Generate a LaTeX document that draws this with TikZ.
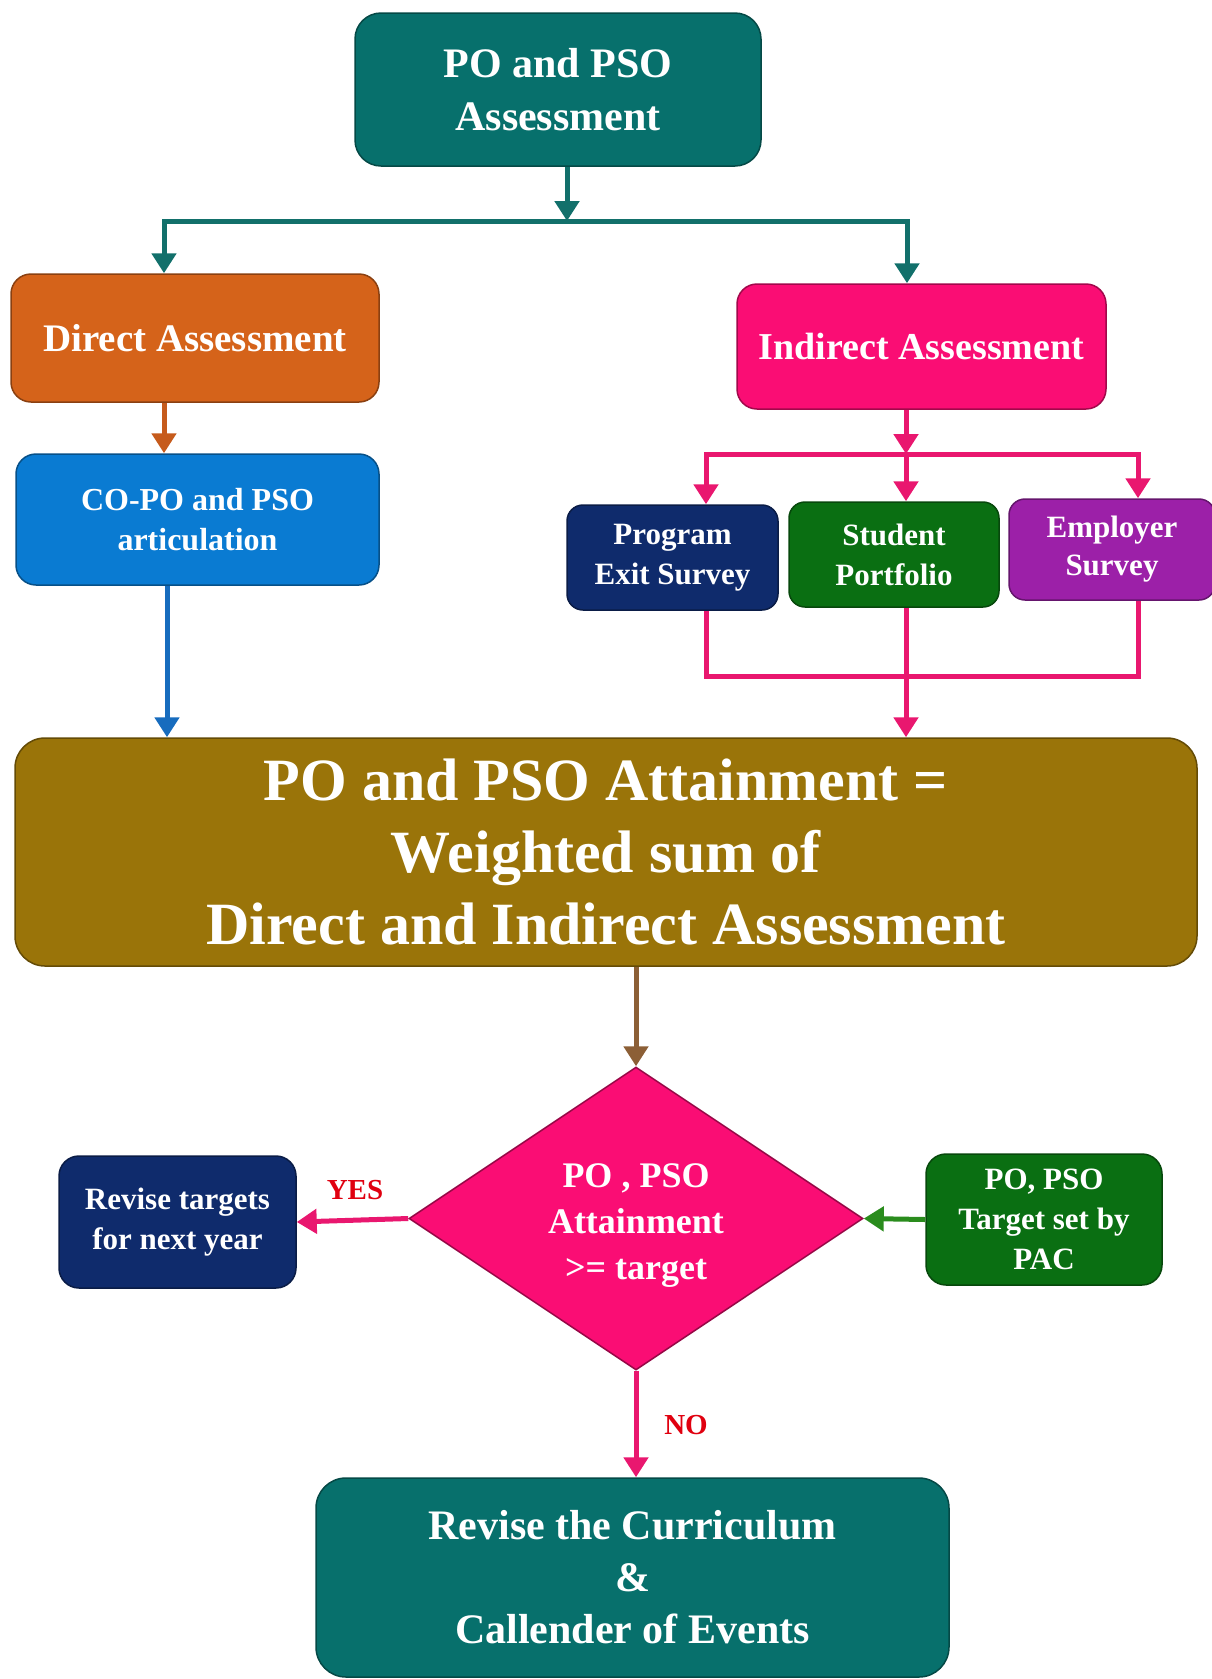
\documentclass[tikz,border=0pt]{standalone}
\usepackage{fontspec}
\setmainfont{Liberation Serif}
\usetikzlibrary{arrows.meta,shapes.geometric}

% box fills
\definecolor{cteal}{HTML}{07706C}
\definecolor{corange}{HTML}{D5631A}
\definecolor{cblue}{HTML}{0A7BD2}
\definecolor{cpink}{HTML}{FA0D74}
\definecolor{cnavy}{HTML}{0F2B6C}
\definecolor{cgreen}{HTML}{0A6F12}
\definecolor{cpurple}{HTML}{9C20A8}
\definecolor{colive}{HTML}{9A7409}
% connector colours
\definecolor{lteal}{HTML}{12706B}
\definecolor{lorange}{HTML}{C65B1C}
\definecolor{lblue}{HTML}{176CBE}
\definecolor{lpink}{HTML}{E9176F}
\definecolor{lbrown}{HTML}{8C5F36}
\definecolor{lgreen}{HTML}{2A8C1D}
\definecolor{lred}{HTML}{E0000F}

\begin{document}
\begin{tikzpicture}[x=1pt,y=-1pt,
  box/.style={rectangle, rounded corners=20pt, draw=#1!65!black, line width=1.5pt,
    fill=#1, text=white, align=center, inner sep=0pt},
  conn/.style={line width=5pt, draw=#1},
  >={Triangle[length=20pt,width=24pt]},
  flag/.style={text=lred, font=\fontsize{29}{32}\selectfont\bfseries, inner sep=0pt}]
\useasboundingbox (0,0) rectangle (1211,1679);

% ---- boxes ----
\node[box=cteal, minimum width=406pt, minimum height=153pt, rounded corners=26pt,
      font=\fontsize{42}{53}\selectfont\bfseries] (top) at (558,89.5) {PO and PSO\\Assessment};
\node[box=corange, minimum width=368pt, minimum height=128pt,
      font=\fontsize{39}{48}\selectfont\bfseries] (direct) at (195,338) {Direct Assessment};
\node[box=cpink, minimum width=369pt, minimum height=125pt,
      font=\fontsize{38}{48}\selectfont\bfseries] (indirect) at (921.5,346.5) {Indirect Assessment};
\node[box=cblue, minimum width=363pt, minimum height=131pt,
      font=\fontsize{32}{40}\selectfont\bfseries] (copo) at (197.5,519.5) {CO-PO and PSO\\articulation};
\node[box=cnavy, minimum width=211pt, minimum height=105pt, rounded corners=16pt,
      font=\fontsize{31}{40}\selectfont\bfseries] (prog) at (672.5,557.5) {Program\\Exit Survey};
\node[box=cgreen, minimum width=210pt, minimum height=105pt, rounded corners=16pt,
      font=\fontsize{31}{40}\selectfont\bfseries] (stud) at (894,554.5) {Student\\Portfolio};
\node[box=cpurple, minimum width=206pt, minimum height=101pt, rounded corners=16pt,
      font=\fontsize{31}{38}\selectfont\bfseries] (emp) at (1112,549.5) {Employer\\Survey};
\node[box=colive, minimum width=1182pt, minimum height=228pt, rounded corners=30pt,
      font=\fontsize{60}{72}\selectfont\bfseries] (big) at (606,852)
      {PO and PSO Attainment =\\Weighted sum of\\Direct and Indirect Assessment};
\node[diamond, minimum width=454pt, minimum height=303pt, inner sep=0pt,
      fill=cpink, draw=cpink!60!black, line width=1.5pt] (dia) at (636,1218.5) {};
\node[text=white, align=center, inner sep=0pt,
      font=\fontsize{36}{46}\selectfont\bfseries] (diatext) at (636,1226)
      {PO , PSO\\Attainment\\>= target};
\node[box=cnavy, minimum width=237pt, minimum height=132pt,
      font=\fontsize{31}{40}\selectfont\bfseries] (revise) at (177.5,1222) {Revise targets\\for next year};
\node[box=cgreen, minimum width=236pt, minimum height=131pt,
      font=\fontsize{31}{40}\selectfont\bfseries] (target) at (1044,1219.5) {PO, PSO\\Target set by\\PAC};
\node[box=cteal, minimum width=633pt, minimum height=199pt, rounded corners=30pt,
      font=\fontsize{42}{52}\selectfont\bfseries] (curr) at (632.5,1577.5)
      {Revise the Curriculum\\\&\\Callender of  Events};

% ---- junction points ----
\coordinate (tj) at (567,221);   % top split bar
\coordinate (lx) at (164,221);
\coordinate (rx) at (907,221);
\coordinate (cx) at (167,0);     % left column
\coordinate (ij) at (906,454);   % indirect split bar
\coordinate (px) at (706,454);
\coordinate (ex) at (1138,454);
\coordinate (mj) at (906,676);   % survey merge bar

% ---- connectors ----
\draw[conn=lteal, ->] (top.south -| tj) -- (tj);
\draw[conn=lteal, <->] (direct.north -| lx) -- (lx) -- (rx) -- (indirect.north -| rx);

\draw[conn=lorange, ->] (direct.south -| lx) -- (copo.north -| lx);
\draw[conn=lblue, ->] (copo.south -| cx) -- (big.north -| cx);

\draw[conn=lpink, ->] (indirect.south -| ij) -- (ij);
\draw[conn=lpink, <->] (prog.north -| px) -- (px) -- (ex) -- (emp.north -| ex);
\draw[conn=lpink, ->] (ij) -- (stud.north -| ij);

\draw[conn=lpink] (prog.south -| px) -- (px |- mj) -- (ex |- mj) -- (emp.south -| ex);
\draw[conn=lpink, ->] (stud.south -| mj) -- (big.north -| mj);

\draw[conn=lbrown, ->] (big.south -| dia.north) -- (dia.north);
\draw[conn=lpink, ->] (dia.west) -- (revise.east);
\draw[conn=lgreen, ->] (target.west) -- (dia.east);
\draw[conn=lpink, ->] (dia.south) -- (curr.north -| dia.south);

% ---- decision labels ----
\node[flag] (yes) at (355,1190) {YES};
\node[flag] (no) at (686,1425) {NO};
\end{tikzpicture}
\end{document}
